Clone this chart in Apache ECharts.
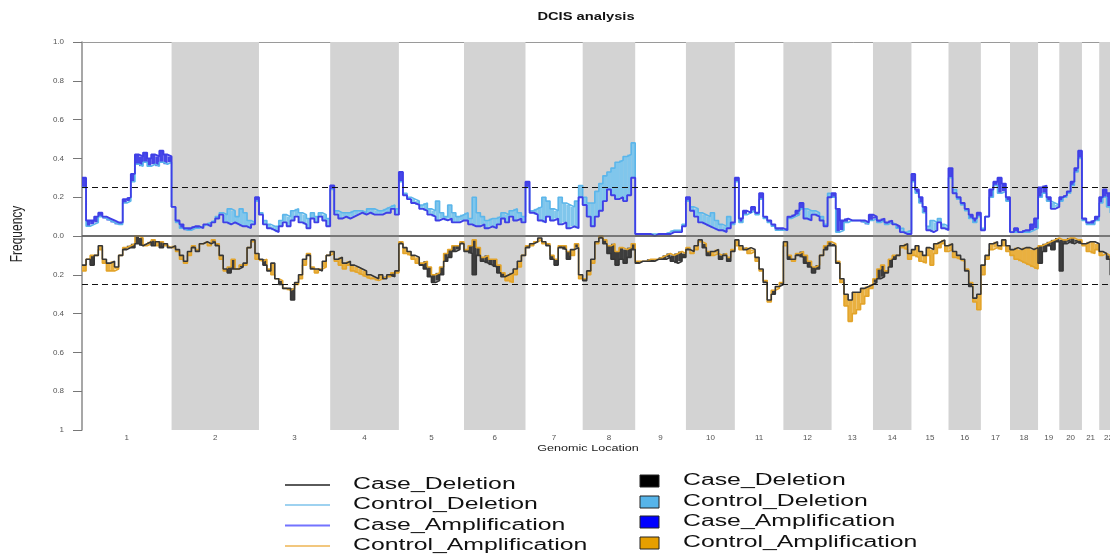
<!DOCTYPE html>
<html>
<head>
<meta charset="utf-8">
<title>DCIS analysis</title>
<script src="https://cdn.jsdelivr.net/npm/echarts@6.0.0/dist/echarts.min.js"></script>
<style>
  html, body { margin: 0; padding: 0; background: #fff; }
  #chart { width: 1110px; height: 555px; }
</style>
</head>
<body>
<div id="chart"></div>
<script>
// Chromosomes and their lengths (Mb, hg19)
const chromNames = ['1','2','3','4','5','6','7','8','9','10','11','12','13','14','15','16','17','18','19','20','21','22'];
const chromLengths = [249,243,198,191,181,171,159,146,141,136,135,134,115,107,103,90,81,78,59,63,48,51];
// Visible genomic window (Mb); chromosome 22 runs past the right edge
const xVisibleMax = 2858;

// Y tick labels, bottom to top (deletions below zero, amplifications above)
const yTickLabels = ['1','0.8','0.6','0.4','0.2','0.0','0.2','0.4','0.6','0.8','1.0'];

// Frequencies per chromosome, equal-width bins along each chromosome
const caseAmplification = [
  [0.30,0.08,0.08,0.10,0.12,0.10,0.09,0.08,0.07,0.07,0.19,0.20,0.32,0.42,0.41,0.43,0.40,0.42,0.41,0.44,0.42,0.41],
  [0.15,0.08,0.06,0.04,0.04,0.05,0.05,0.04,0.06,0.05,0.07,0.09,0.11,0.07,0.06,0.07,0.06,0.05,0.05,0.04,0.06,0.20],
  [0.11,0.06,0.04,0.03,0.02,0.05,0.07,0.05,0.08,0.10,0.07,0.06,0.04,0.09,0.07,0.10,0.08,0.05],
  [0.26,0.11,0.09,0.10,0.09,0.10,0.11,0.12,0.11,0.12,0.11,0.11,0.11,0.12,0.12,0.14,0.11],
  [0.33,0.21,0.19,0.17,0.16,0.14,0.13,0.11,0.10,0.08,0.09,0.08,0.09,0.07,0.07,0.08],
  [0.08,0.06,0.05,0.05,0.06,0.04,0.05,0.04,0.06,0.09,0.07,0.10,0.08,0.09,0.07],
  [0.28,0.12,0.11,0.08,0.07,0.10,0.08,0.09,0.06,0.07,0.04,0.05,0.04,0.20],
  [0.16,0.10,0.05,0.10,0.13,0.18,0.24,0.21,0.19,0.20,0.18,0.21,0.30],
  [0.01,0.01,0.01,0.01,0.00,0.01,0.01,0.01,0.01,0.02,0.02,0.02,0.05],
  [0.20,0.13,0.10,0.07,0.06,0.05,0.04,0.03,0.03,0.02,0.04,0.07],
  [0.30,0.09,0.13,0.12,0.15,0.12,0.22,0.10,0.08,0.06,0.04,0.04],
  [0.03,0.10,0.11,0.13,0.17,0.09,0.08,0.11,0.10,0.08,0.05,0.20],
  [0.22,0.14,0.08,0.09,0.08,0.08,0.08,0.08,0.07,0.11],
  [0.10,0.08,0.09,0.07,0.08,0.06,0.05,0.02,0.01,0.01],
  [0.32,0.24,0.20,0.15,0.03,0.02,0.03,0.07,0.04,0.03],
  [0.35,0.22,0.20,0.17,0.14,0.11,0.09,0.12],
  [0.03,0.10,0.24,0.28,0.30,0.27,0.20],
  [0.02,0.04,0.02,0.03,0.03,0.06,0.09],
  [0.25,0.26,0.20,0.14,0.15],
  [0.20,0.21,0.23,0.28,0.35,0.44],
  [0.09,0.07,0.08,0.10],
  [0.20,0.24,0.22,0.21,0.20]
];

const controlAmplification = [
  [0.25,0.05,0.06,0.07,0.10,0.09,0.08,0.07,0.06,0.06,0.17,0.18,0.28,0.37,0.36,0.38,0.36,0.37,0.36,0.38,0.37,0.38],
  [0.15,0.07,0.04,0.03,0.03,0.04,0.04,0.05,0.06,0.07,0.08,0.10,0.12,0.11,0.14,0.13,0.10,0.14,0.12,0.08,0.07,0.18],
  [0.12,0.08,0.06,0.05,0.05,0.08,0.11,0.10,0.13,0.14,0.12,0.11,0.09,0.12,0.10,0.12,0.11,0.09],
  [0.24,0.13,0.12,0.12,0.12,0.13,0.13,0.13,0.12,0.14,0.14,0.13,0.13,0.14,0.15,0.16,0.14],
  [0.28,0.22,0.20,0.19,0.18,0.16,0.17,0.14,0.13,0.18,0.12,0.10,0.16,0.12,0.10,0.11],
  [0.12,0.09,0.20,0.12,0.10,0.08,0.09,0.09,0.10,0.12,0.11,0.13,0.14,0.12,0.10],
  [0.25,0.13,0.14,0.15,0.20,0.18,0.14,0.13,0.20,0.17,0.16,0.15,0.18,0.26],
  [0.20,0.17,0.17,0.23,0.27,0.31,0.33,0.35,0.38,0.39,0.41,0.42,0.48],
  [0.01,0.01,0.01,0.01,0.01,0.01,0.01,0.01,0.02,0.03,0.03,0.03,0.06],
  [0.18,0.15,0.14,0.12,0.11,0.10,0.12,0.08,0.06,0.05,0.10,0.06],
  [0.28,0.07,0.11,0.12,0.13,0.11,0.19,0.09,0.07,0.05,0.03,0.03],
  [0.03,0.09,0.10,0.11,0.14,0.14,0.13,0.13,0.12,0.10,0.06,0.22],
  [0.20,0.02,0.03,0.07,0.08,0.08,0.08,0.07,0.06,0.08],
  [0.09,0.07,0.08,0.06,0.07,0.06,0.04,0.04,0.02,0.03],
  [0.28,0.22,0.17,0.12,0.05,0.08,0.07,0.09,0.06,0.05],
  [0.30,0.24,0.19,0.16,0.13,0.09,0.07,0.10],
  [0.04,0.10,0.20,0.26,0.22,0.23,0.18],
  [0.02,0.02,0.02,0.02,0.02,0.03,0.04],
  [0.20,0.22,0.18,0.17,0.16],
  [0.18,0.20,0.22,0.26,0.33,0.40],
  [0.08,0.06,0.06,0.08],
  [0.17,0.20,0.15,0.12,0.12]
];

const caseDeletion = [
  [0.15,0.12,0.15,0.10,0.05,0.12,0.14,0.13,0.16,0.10,0.07,0.06,0.06,0.04,0.05,0.04,0.03,0.05,0.03,0.06,0.04,0.06],
  [0.05,0.07,0.10,0.13,0.08,0.06,0.08,0.04,0.03,0.04,0.03,0.05,0.10,0.17,0.19,0.17,0.17,0.16,0.14,0.06,0.02,0.09],
  [0.12,0.15,0.18,0.14,0.22,0.25,0.27,0.27,0.33,0.24,0.20,0.12,0.10,0.17,0.17,0.18,0.13,0.10],
  [0.08,0.12,0.11,0.14,0.13,0.15,0.16,0.17,0.18,0.20,0.21,0.22,0.20,0.22,0.20,0.21,0.18],
  [0.04,0.06,0.08,0.10,0.11,0.15,0.17,0.21,0.24,0.23,0.20,0.13,0.11,0.08,0.07,0.04],
  [0.08,0.09,0.20,0.10,0.13,0.14,0.15,0.16,0.19,0.21,0.20,0.19,0.17,0.13,0.10],
  [0.06,0.04,0.03,0.01,0.03,0.05,0.12,0.15,0.06,0.07,0.12,0.07,0.06,0.20],
  [0.23,0.18,0.12,0.03,0.01,0.04,0.09,0.12,0.15,0.12,0.14,0.11,0.07],
  [0.14,0.13,0.13,0.13,0.13,0.12,0.12,0.12,0.11,0.13,0.14,0.13,0.11],
  [0.07,0.08,0.05,0.02,0.06,0.10,0.08,0.07,0.12,0.10,0.13,0.08],
  [0.02,0.05,0.07,0.06,0.07,0.11,0.17,0.24,0.33,0.30,0.26,0.25],
  [0.03,0.12,0.12,0.10,0.11,0.14,0.16,0.19,0.17,0.10,0.07,0.05],
  [0.05,0.14,0.22,0.30,0.33,0.29,0.29,0.27,0.26,0.25],
  [0.24,0.22,0.21,0.19,0.16,0.12,0.10,0.05,0.04,0.09],
  [0.07,0.05,0.08,0.10,0.06,0.07,0.04,0.03,0.02,0.05],
  [0.04,0.08,0.10,0.12,0.18,0.26,0.32,0.30],
  [0.15,0.10,0.04,0.03,0.05,0.02,0.05],
  [0.07,0.06,0.07,0.06,0.06,0.07,0.06],
  [0.14,0.08,0.05,0.07,0.03],
  [0.18,0.04,0.03,0.04,0.03,0.04],
  [0.04,0.03,0.03,0.04],
  [0.08,0.09,0.12,0.20,0.22]
];

const controlDeletion = [
  [0.18,0.12,0.10,0.10,0.07,0.14,0.18,0.18,0.17,0.10,0.06,0.05,0.04,0.00,0.01,0.05,0.04,0.02,0.05,0.03,0.05,0.06],
  [0.06,0.08,0.12,0.14,0.10,0.05,0.07,0.04,0.03,0.05,0.02,0.04,0.12,0.18,0.16,0.12,0.17,0.15,0.15,0.06,0.03,0.12],
  [0.13,0.12,0.17,0.20,0.22,0.23,0.27,0.28,0.27,0.25,0.22,0.15,0.09,0.16,0.19,0.17,0.16,0.10],
  [0.09,0.13,0.15,0.17,0.15,0.18,0.19,0.20,0.21,0.22,0.22,0.23,0.22,0.21,0.21,0.19,0.19],
  [0.03,0.09,0.10,0.12,0.14,0.14,0.13,0.16,0.20,0.19,0.16,0.09,0.07,0.05,0.05,0.03],
  [0.07,0.05,0.02,0.06,0.11,0.10,0.12,0.12,0.15,0.19,0.23,0.24,0.20,0.16,0.10],
  [0.05,0.05,0.03,0.02,0.04,0.04,0.10,0.12,0.05,0.05,0.08,0.10,0.04,0.22],
  [0.22,0.20,0.14,0.04,0.00,0.02,0.05,0.04,0.08,0.06,0.07,0.06,0.04],
  [0.13,0.13,0.13,0.12,0.12,0.12,0.11,0.10,0.09,0.10,0.09,0.08,0.09],
  [0.06,0.09,0.07,0.03,0.04,0.08,0.10,0.09,0.10,0.09,0.11,0.07],
  [0.05,0.07,0.06,0.09,0.08,0.13,0.18,0.23,0.34,0.28,0.27,0.24],
  [0.05,0.10,0.13,0.09,0.08,0.10,0.13,0.16,0.15,0.10,0.05,0.03],
  [0.04,0.13,0.24,0.36,0.44,0.40,0.38,0.35,0.31,0.27],
  [0.22,0.17,0.15,0.18,0.12,0.10,0.10,0.06,0.07,0.12],
  [0.10,0.11,0.13,0.14,0.10,0.15,0.09,0.06,0.04,0.08],
  [0.07,0.11,0.12,0.13,0.17,0.24,0.34,0.38],
  [0.20,0.12,0.07,0.06,0.07,0.05,0.08],
  [0.10,0.12,0.13,0.14,0.15,0.16,0.17],
  [0.05,0.04,0.03,0.02,0.01],
  [0.02,0.02,0.01,0.01,0.02,0.02],
  [0.05,0.08,0.09,0.07],
  [0.10,0.09,0.10,0.12,0.12]
];

// Genome layout: cumulative start of each chromosome
const chromStarts = [];
let acc = 0;
chromLengths.forEach(len => { chromStarts.push(acc); acc += len; });
const chromCenters = chromStarts.map((s, i) => s + chromLengths[i] / 2);

// Step-line points: one point at each bin start plus the chromosome end
function stepPoints(perChrom, sign) {
  const pts = [];
  perChrom.forEach((vals, c) => {
    const s = chromStarts[c], len = chromLengths[c], n = vals.length;
    vals.forEach((v, i) => pts.push([s + len * i / n, sign * v]));
    pts.push([s + len, sign * vals[n - 1]]);
  });
  return pts;
}

// Intervals between the case and control step functions
function fillIntervals(caseVals, ctrlVals, sign) {
  const out = [];
  chromLengths.forEach((len, c) => {
    const s = chromStarts[c], a = caseVals[c], b = ctrlVals[c];
    const edges = new Set();
    for (let i = 0; i <= a.length; i++) edges.add(+(len * i / a.length).toFixed(6));
    for (let i = 0; i <= b.length; i++) edges.add(+(len * i / b.length).toFixed(6));
    const e = Array.from(edges).sort((p, q) => p - q);
    for (let k = 0; k < e.length - 1; k++) {
      const mid = (e[k] + e[k + 1]) / 2;
      const va = a[Math.min(a.length - 1, Math.floor(mid / len * a.length))];
      const vb = b[Math.min(b.length - 1, Math.floor(mid / len * b.length))];
      const x0 = s + e[k], x1 = Math.min(s + e[k + 1], xVisibleMax);
      if (x0 < xVisibleMax) out.push([x0, x1, sign * va, sign * vb]);
    }
  });
  return out;
}

function makeFillRenderer(caseColor, controlColor) {
  return function (params, api) {
    const x0 = api.value(0), x1 = api.value(1), a = api.value(2), b = api.value(3);
    if (a === b) return null;
    const p0 = api.coord([x0, a]);
    const p1 = api.coord([x1, b]);
    return {
      type: 'rect',
      shape: { x: p0[0], y: Math.min(p0[1], p1[1]), width: p1[0] - p0[0], height: Math.abs(p1[1] - p0[1]) },
      style: { fill: Math.abs(b) > Math.abs(a) ? controlColor : caseColor }
    };
  };
}

// Alternating chromosome bands
const bandAreas = [];
chromStarts.forEach((s, i) => {
  if (i % 2 === 1) bandAreas.push([{ xAxis: s }, { xAxis: Math.min(s + chromLengths[i], xVisibleMax) }]);
});

const STRETCH = 1.55;
const legendRowsLeft = [485, 505, 525.5, 546];
const legendRowsRight = [481, 502, 522, 543];
const legendNames = ['Case_Deletion', 'Control_Deletion', 'Case_Amplification', 'Control_Amplification'];
const legendLineColors = ['#5a5a5a', '#9ed2f0', '#7373ff', '#f2c77e'];
const legendBoxColors = ['#000000', '#56b4e9', '#0000ff', '#e69f00'];

const graphics = [
  { type: 'text', x: 586, y: 17, scaleX: 1.47,
    style: { text: 'DCIS analysis', font: 'bold 10px "Liberation Sans", Arial, sans-serif', fill: '#111', align: 'center', verticalAlign: 'middle' } },
  { type: 'text', x: 588, y: 449, scaleX: 1.4,
    style: { text: 'Genomic Location', font: '9px "Liberation Sans", Arial, sans-serif', fill: '#222', align: 'center', verticalAlign: 'middle' } },
  { type: 'text', x: 18, y: 234, rotation: Math.PI / 2, scaleY: 1.35,
    style: { text: 'Frequency', font: '12px "Liberation Sans", Arial, sans-serif', fill: '#222', align: 'center', verticalAlign: 'middle' } }
];
legendNames.forEach((name, i) => {
  const yl = legendRowsLeft[i], yr = legendRowsRight[i];
  graphics.push({ type: 'line', shape: { x1: 285, y1: yl, x2: 330, y2: yl }, style: { stroke: legendLineColors[i], lineWidth: 2 } });
  graphics.push({ type: 'text', x: 353, y: yl, scaleX: STRETCH,
    style: { text: name, font: '16px "Liberation Sans", Arial, sans-serif', fill: '#111', verticalAlign: 'middle' } });
  graphics.push({ type: 'rect', shape: { x: 640, y: yr - 6, width: 19, height: 12 }, style: { fill: legendBoxColors[i], stroke: '#222', lineWidth: 1 } });
  graphics.push({ type: 'text', x: 683, y: yr, scaleX: STRETCH,
    style: { text: name, font: '16px "Liberation Sans", Arial, sans-serif', fill: '#111', verticalAlign: 'middle' } });
});

const chart = echarts.init(document.getElementById('chart'), null, { renderer: 'canvas' });
chart.setOption({
  animation: false,
  backgroundColor: '#fff',
  grid: { left: 82, right: 0, top: 42, bottom: 125, outerBoundsMode: 'none', containLabel: false },
  xAxis: [
    {
      type: 'value', min: 0, max: xVisibleMax,
      axisLine: { show: true, lineStyle: { color: '#8a8a8a', width: 1.5 } },
      axisTick: { show: false },
      splitLine: { show: false },
      axisLabel: {
        customValues: chromCenters.filter(c => c < xVisibleMax),
        fontSize: 8, color: '#555', margin: 4,
        formatter: function (v) {
          const i = chromCenters.findIndex(c => Math.abs(c - v) < 1e-6);
          return i >= 0 ? chromNames[i] : '';
        }
      }
    },
    {
      type: 'value', position: 'top', min: 0, max: xVisibleMax,
      axisLine: { show: true, lineStyle: { color: '#9a9a9a', width: 1 } },
      axisTick: { show: false }, axisLabel: { show: false }, splitLine: { show: false }
    }
  ],
  yAxis: {
    type: 'value', min: -1, max: 1, interval: 0.2,
    axisLine: { show: true, lineStyle: { color: '#8a8a8a', width: 1.5 } },
    axisTick: { show: true, length: 9, lineStyle: { color: '#777' } },
    splitLine: { show: false },
    axisLabel: {
      fontSize: 8, color: '#555', margin: 18,
      formatter: function (v, idx) { return yTickLabels[idx]; }
    }
  },
  graphic: graphics,
  series: [
    {
      name: 'bands', type: 'line', data: [[0, 0]], symbol: 'none', silent: true, z: 0,
      lineStyle: { opacity: 0 },
      markArea: { silent: true, itemStyle: { color: '#d3d3d3' }, data: bandAreas },
      markLine: {
        silent: true, symbol: ['none', 'none'], label: { show: false },
        data: [
          { yAxis: 0, lineStyle: { type: 'solid', color: '#5a5a5a', width: 1.6 } },
          { yAxis: 0.25, lineStyle: { type: [6, 4], color: '#111', width: 1 } },
          { yAxis: -0.25, lineStyle: { type: [6, 4], color: '#111', width: 1 } }
        ]
      }
    },
    {
      name: 'amplificationFill', type: 'custom', z: 2, silent: true,
      renderItem: makeFillRenderer('#4646e8', '#80c6ec'),
      encode: { x: [0, 1], y: [2, 3] },
      data: fillIntervals(caseAmplification, controlAmplification, 1)
    },
    {
      name: 'deletionFill', type: 'custom', z: 2, silent: true,
      renderItem: makeFillRenderer('#3d3d3d', '#e9b040'),
      encode: { x: [0, 1], y: [2, 3] },
      data: fillIntervals(caseDeletion, controlDeletion, -1)
    },
    {
      name: 'Control_Amplification', type: 'line', step: 'end', symbol: 'none', z: 3,
      lineStyle: { color: '#e3a42a', width: 1.6 },
      data: stepPoints(controlDeletion, -1)
    },
    {
      name: 'Case_Deletion', type: 'line', step: 'end', symbol: 'none', z: 3,
      lineStyle: { color: '#363636', width: 1.6 },
      data: stepPoints(caseDeletion, -1)
    },
    {
      name: 'Control_Deletion', type: 'line', step: 'end', symbol: 'none', z: 3,
      lineStyle: { color: '#5cb6ea', width: 1.6 },
      data: stepPoints(controlAmplification, 1)
    },
    {
      name: 'Case_Amplification', type: 'line', step: 'end', symbol: 'none', z: 3,
      lineStyle: { color: '#3f3fe6', width: 1.9 },
      data: stepPoints(caseAmplification, 1)
    }
  ]
});
</script>
</body>
</html>
